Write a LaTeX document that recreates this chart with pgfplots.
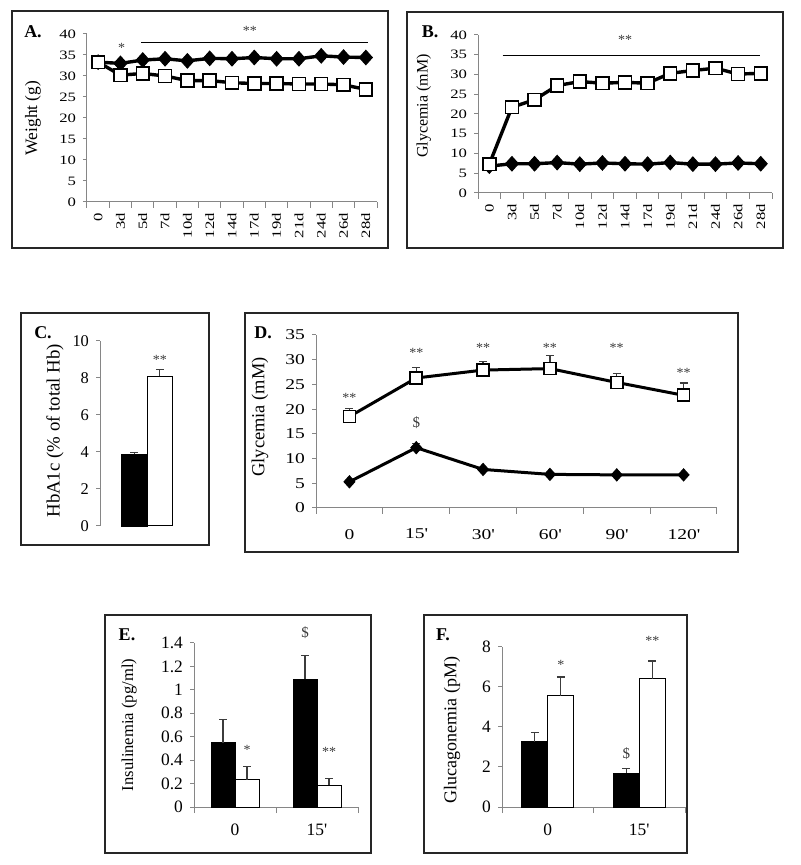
\documentclass[border=0pt]{standalone}
\usepackage{fontspec}
\setmainfont{Liberation Serif}
\newfontfamily\wideserif[FakeStretch=1.3]{Liberation Serif}
\usepackage{pgfplots}
\pgfplotsset{compat=1.18}

\definecolor{axgray}{RGB}{134,134,134}
\definecolor{errgray}{RGB}{60,60,60}
% layout: 1 px of the 800x865 reference = 0.5pt
\newcommand{\fs}[1]{\fontsize{#1}{#1}\selectfont}
\newcommand{\pr}{\textquotesingle}

\tikzset{
  sig/.style={font=\fs{7}, text=errgray, inner sep=0pt, yshift=-1.5pt},
  dol/.style={font=\fs{7.5}, text=errgray, inner sep=0pt},
  plab/.style={font=\fs{9}\bfseries, inner sep=0pt},
}
\pgfplotsset{
  panel/.style={
    scale only axis,
    anchor=south west,
    clip=false,
    axis lines*=left,
    axis line style={draw=axgray, line width=0.5pt},
    tick style={draw=axgray, line width=0.5pt},
    tick align=outside,
    major tick length=2pt,
    minor tick length=3pt,
    major x tick style={draw=none},
    font=\fs{8},
    /pgf/number format/assume math mode=true,
    ylabel style={anchor=center},
  },
  dia/.style={black, line width=1.7pt, mark=diamond*, mark size=3.6pt,
    mark options={fill=black, line width=0.5pt, xscale=1.2}},
  sqr/.style={black, line width=1.7pt, mark=square*, mark size=3.2pt,
    mark options={fill=white, draw=black, line width=0.8pt}},
  errs/.style={error bars/.cd, y dir=plus, y explicit,
    error bar style={errgray, line width=0.6pt, xshift=#1},
    error mark options={rotate=90, errgray, mark size=2pt, line width=0.6pt}},
  errs/.default=0pt,
}

\begin{document}
\begin{tikzpicture}
\path[use as bounding box] (0pt,0pt) rectangle (400pt,432.5pt);

% frames
\begin{scope}[line width=0.7pt, draw=black!85]
\draw (6pt,427pt) rectangle (194pt,308.5pt);
\draw (203.5pt,426.5pt) rectangle (391.5pt,308.5pt);
\draw (10.5pt,276pt) rectangle (104.5pt,160pt);
\draw (122.5pt,276pt) rectangle (369pt,156.5pt);
\draw (52.5pt,125pt) rectangle (185.5pt,6pt);
\draw (212pt,125pt) rectangle (343.5pt,6pt);
\end{scope}

\node[plab] at (16.5pt,416.5pt) {A.};
\node[plab] at (215pt,416.5pt) {B.};
\node[plab] at (21.5pt,266pt) {C.};
\node[plab] at (131.5pt,266pt) {D.};
\node[plab] at (63.5pt,115pt) {E.};
\node[plab] at (221.5pt,115pt) {F.};

% ---------- A: weight ----------
\begin{axis}[panel, at={(43.5pt,331.5pt)}, width=145pt, height=84pt,
  xmin=-0.5, xmax=12.5, ymin=0, ymax=40,
  ytick={0,5,...,40},
  xtick={0,...,12},
  xticklabels={0,3d,5d,7d,10d,12d,14d,17d,19d,21d,24d,26d,28d},
  tick label style={font=\wideserif\fs{6.4}},
  xticklabel style={rotate=90, anchor=east},
  minor xtick={-0.5,0.5,...,12.5},
  ylabel={Weight (g)},
  ylabel style={font=\fs{8.7}, at={(axis description cs:-0.186,0.5)}},
]
\addplot[dia] coordinates {(0,33.3) (1,33.0) (2,33.8) (3,34.1) (4,33.6) (5,34.2) (6,34.1)
  (7,34.4) (8,34.1) (9,34.1) (10,34.8) (11,34.5) (12,34.4)};
\addplot[sqr] coordinates {(0,33.3) (1,30.2) (2,30.6) (3,30.0) (4,28.9) (5,28.9) (6,28.4)
  (7,28.2) (8,28.2) (9,28.1) (10,28.1) (11,27.9) (12,26.8)};
\draw[black, line width=0.6pt] (axis cs:1.94,38) -- (axis cs:12.1,38);
\node[sig] at (axis cs:6.8,41.4) {**};
\node[sig] at (axis cs:1.05,37.4) {*};
\end{axis}

% ---------- B: glycemia over days ----------
\begin{axis}[panel, at={(239pt,336pt)}, width=147pt, height=79pt,
  xmin=-0.5, xmax=12.5, ymin=0, ymax=40,
  ytick={0,5,...,40},
  xtick={0,...,12},
  xticklabels={0,3d,5d,7d,10d,12d,14d,17d,19d,21d,24d,26d,28d},
  tick label style={font=\wideserif\fs{6.4}},
  xticklabel style={rotate=90, anchor=east},
  minor xtick={-0.5,0.5,...,12.5},
  ylabel={Glycemia (mM)},
  ylabel style={font=\fs{8}, at={(axis description cs:-0.184,0.551)}},
]
\addplot[dia] coordinates {(0,6.8) (1,7.4) (2,7.4) (3,7.7) (4,7.3) (5,7.6) (6,7.4)
  (7,7.3) (8,7.7) (9,7.3) (10,7.3) (11,7.6) (12,7.4)};
\addplot[sqr] coordinates {(0,7.3) (1,21.7) (2,23.6) (3,27.2) (4,28.2) (5,27.8) (6,28.0)
  (7,27.8) (8,30.3) (9,31.0) (10,31.6) (11,30.1) (12,30.3)};
\draw[black, line width=0.6pt] (axis cs:0.59,34.9) -- (axis cs:11.95,34.9);
\node[sig] at (axis cs:6.0,39.4) {**};
\end{axis}

% ---------- C: HbA1c ----------
\begin{axis}[panel, at={(50pt,169.5pt)}, width=47pt, height=92.5pt,
  axis x line=none, axis y line*=left,
  xmin=-1, xmax=1, ymin=0, ymax=10,
  ytick={0,2,...,10}, xtick=\empty,
  tick label style={font=\fs{8.2}},
  ylabel={HbA1c (\% of total Hb)},
  ylabel style={font=\fs{9.4}, at={(axis description cs:-0.479,0.514)}},
]
\addplot[ybar, bar width=12.75pt, bar shift=-6.375pt, fill=black, draw=black, errs=-6.375pt]
  coordinates {(0,3.87) +- (0,0.12)};
\addplot[ybar, bar width=12.75pt, bar shift=6.375pt, fill=white, draw=black, line width=0.5pt, errs=6.375pt]
  coordinates {(0,8.1) +- (0,0.37)};
\node[sig, xshift=6.4pt] at (axis cs:0,9.15) {**};
\end{axis}

% ---------- D: glucose tolerance ----------
\begin{axis}[panel, at={(158pt,178.5pt)}, width=200.5pt, height=86.5pt,
  xmin=-0.5, xmax=5.5, ymin=0, ymax=35,
  ytick={0,5,...,35},
  xtick={0,...,5},
  xticklabels={0,15\pr,30\pr,60\pr,90\pr,120\pr},
  tick label style={font=\wideserif\fs{7.5}},
  xticklabel style={yshift=-5pt},
  minor xtick={-0.5,0.5,...,5.5},
  ylabel={Glycemia (mM)},
  ylabel style={font=\fs{9.2}, at={(axis description cs:-0.140,0.526)}},
  dia/.append style={line width=1.5pt, mark size=3pt},
  sqr/.append style={line width=1.5pt, mark size=3pt},
]
\addplot[dia, errs] coordinates {(0,5.3) +- (0,0) (1,12.2) +- (0,0.8) (2,7.8) +- (0,0)
  (3,6.8) +- (0,0) (4,6.7) +- (0,0) (5,6.7) +- (0,0)};
\addplot[sqr, errs] coordinates {(0,18.5) +- (0,1.6) (1,26.3) +- (0,2.2) (2,27.9) +- (0,1.7)
  (3,28.2) +- (0,2.6) (4,25.4) +- (0,1.8) (5,22.8) +- (0,2.5)};
\node[sig] at (axis cs:0,22.8) {**};
\node[sig] at (axis cs:1,32) {**};
\node[sig] at (axis cs:2,33) {**};
\node[sig] at (axis cs:3,33) {**};
\node[sig] at (axis cs:4,33) {**};
\node[sig] at (axis cs:5,28) {**};
\node[dol] at (axis cs:1,17.2) {\$};
\end{axis}

% ---------- E: insulinemia ----------
\begin{axis}[panel, at={(97pt,29pt)}, width=82pt, height=82pt,
  xmin=-0.5, xmax=1.5, ymin=0, ymax=1.4,
  ytick={0,0.2,0.4,0.6,0.8,1,1.2,1.4},
  xtick={0,1}, xticklabels={0,15\pr},
  tick label style={font=\fs{8.7}},
  xticklabel style={yshift=-3pt},
  minor xtick={-0.5,0.5,1.5},
  ylabel={Insulinemia (pg/ml)},
  ylabel style={font=\fs{8.3}, at={(axis description cs:-0.396,0.5)}},
]
\addplot[ybar, bar width=12pt, bar shift=-6pt, fill=black, draw=black, errs=-6pt]
  coordinates {(0,0.55) +- (0,0.20) (1,1.09) +- (0,0.20)};
\addplot[ybar, bar width=12pt, bar shift=6pt, fill=white, draw=black, line width=0.5pt, errs=6pt]
  coordinates {(0,0.234) +- (0,0.11) (1,0.186) +- (0,0.057)};
\node[sig, xshift=6pt] at (axis cs:0,0.51) {*};
\node[sig, xshift=6pt] at (axis cs:1,0.50) {**};
\node[dol, xshift=-6pt] at (axis cs:1,1.49) {\$};
\end{axis}

% ---------- F: glucagonemia ----------
\begin{axis}[panel, at={(251pt,29pt)}, width=91.5pt, height=80pt,
  xmin=-0.5, xmax=1.5, ymin=0, ymax=8,
  ytick={0,2,...,8},
  xtick={0,1}, xticklabels={0,15\pr},
  tick label style={font=\fs{8.7}},
  xticklabel style={yshift=-3pt},
  minor xtick={-0.5,0.5,1.5},
  ylabel={Glucagonemia (pM)},
  ylabel style={font=\fs{9}, at={(axis description cs:-0.273,0.48)}},
]
\addplot[ybar, bar width=13pt, bar shift=-6.5pt, fill=black, draw=black, errs=-6.5pt]
  coordinates {(0,3.27) +- (0,0.45) (1,1.69) +- (0,0.25)};
\addplot[ybar, bar width=13pt, bar shift=6.5pt, fill=white, draw=black, line width=0.5pt, errs=6.5pt]
  coordinates {(0,5.56) +- (0,0.94) (1,6.42) +- (0,0.88)};
\node[sig, xshift=6.5pt] at (axis cs:0,7.25) {*};
\node[sig, xshift=6.5pt] at (axis cs:1,8.45) {**};
\node[dol, xshift=-6.5pt] at (axis cs:1,2.69) {\$};
\end{axis}
\end{tikzpicture}
\end{document}
